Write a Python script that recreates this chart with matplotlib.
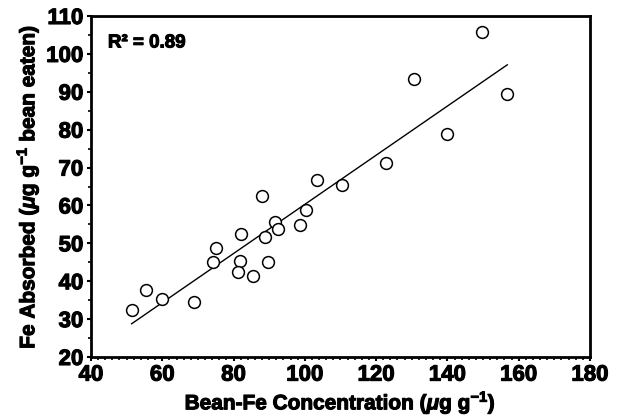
import numpy as np
import matplotlib
matplotlib.use('Agg')
import matplotlib.pyplot as plt
import matplotlib.patheffects as pe
from matplotlib.ticker import MultipleLocator

plt.rcParams['font.family'] = ['Liberation Sans', 'DejaVu Sans']
plt.rcParams['font.weight'] = 'bold'
plt.rcParams['mathtext.fontset'] = 'custom'
plt.rcParams['mathtext.rm'] = 'Liberation Sans:bold'
plt.rcParams['mathtext.it'] = 'Liberation Sans:italic:bold'
plt.rcParams['mathtext.bf'] = 'Liberation Sans:bold'

# bean Fe concentration (ug/g) vs Fe absorbed (ug per g bean eaten)
bean_fe = [51.4, 55.4, 60.0, 68.9, 74.3, 75.2, 82.1, 81.8, 81.2, 85.4, 87.9, 88.8,
           89.6, 91.7, 92.4, 98.6, 100.3, 103.3, 110.5, 122.7, 130.6, 139.8, 149.8, 156.8]
fe_absorbed = [32.4, 37.7, 35.2, 34.4, 45.1, 48.8, 52.5, 45.4, 42.4, 41.4, 62.4, 51.8,
               45.1, 55.6, 53.8, 54.8, 58.7, 66.6, 65.3, 71.2, 93.4, 78.9, 105.7, 89.4]
r_squared = 0.89

x = np.array(bean_fe)
y = np.array(fe_absorbed)
slope, intercept = np.polyfit(x, y, 1)
xfit = np.array([x.min(), x.max()])

heavy = [pe.withStroke(linewidth=0.8, foreground='black')]

fig = plt.figure(figsize=(6.21, 4.17), dpi=100)
ax = fig.add_axes([0.1465, 0.1439, 0.8035, 0.8177])

ax.plot(xfit, slope * xfit + intercept, color='black', lw=1.0)
ax.plot(x, y, 'o', mfc='white', mec='black', ms=8.5, mew=1.1, zorder=3)

ax.set_xlim(40, 180)
ax.set_ylim(20, 110)
ax.xaxis.set_major_locator(MultipleLocator(20))
ax.xaxis.set_minor_locator(MultipleLocator(2))
ax.yaxis.set_major_locator(MultipleLocator(10))
ax.yaxis.set_minor_locator(MultipleLocator(5))

for s in ax.spines.values():
    s.set_linewidth(2.0)
ax.tick_params(which='major', direction='out', length=3, width=1.5, labelsize=16, pad=2.5)
ax.tick_params(which='minor', direction='out', length=2, width=1.2)
for lab in ax.get_xticklabels() + ax.get_yticklabels():
    lab.set_path_effects(heavy)

ax.set_xlabel(r'Bean-Fe Concentration ($\mu$g g$^{-1}$)', fontsize=15, fontweight='bold',
              labelpad=3, path_effects=heavy)
ax.set_ylabel(r'Fe Absorbed ($\mu$g g$^{-1}$ bean eaten)', fontsize=15, fontweight='bold',
              labelpad=4, path_effects=heavy)

ax.text(0.034, 0.921, 'R² = {:.2f}'.format(r_squared), transform=ax.transAxes,
        fontsize=13.5, fontweight='bold', va='center', ha='left', path_effects=heavy)

fig.savefig('out.png', dpi=100)
